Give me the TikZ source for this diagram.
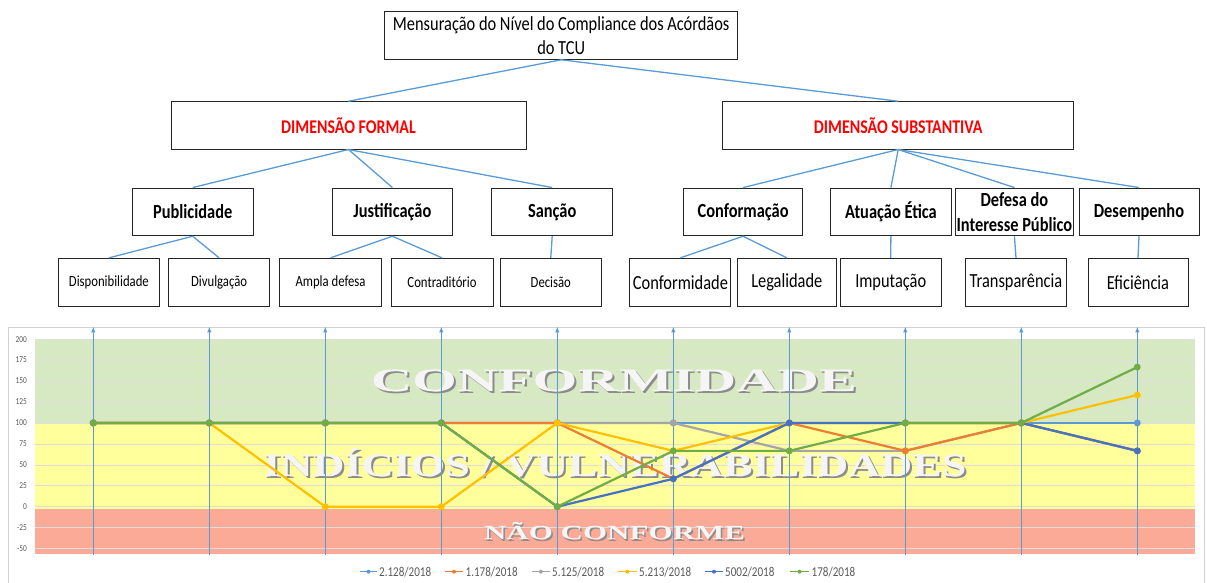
\documentclass[tikz,border=0pt]{standalone}
\usepackage{fontspec}
\setmainfont{Carlito}[FakeStretch=0.82]
\newfontfamily\embfont{Liberation Serif}
\usetikzlibrary{arrows.meta,calc}
\definecolor{connblue}{RGB}{91,155,213}
\definecolor{serA}{RGB}{91,155,213}
\definecolor{serB}{RGB}{237,125,49}
\definecolor{serC}{RGB}{165,165,165}
\definecolor{serD}{RGB}{255,192,0}
\definecolor{serE}{RGB}{68,114,196}
\definecolor{serF}{RGB}{112,173,71}
\definecolor{bandG}{RGB}{214,233,194}
\definecolor{bandY}{RGB}{255,255,155}
\definecolor{bandR}{RGB}{250,170,150}
\definecolor{dimred}{RGB}{255,0,0}
\definecolor{axisgray}{RGB}{89,89,89}
\newcommand\embtext[3]{\resizebox{#1}{\height}{\embfont\bfseries\fontsize{#2}{#2}\selectfont #3}}
\begin{document}
\begin{tikzpicture}[x=1pt,y=1pt,
  box/.style={draw=black!85, line width=1pt, align=center, inner sep=0pt, text=black},
  lvtop/.style={box, font=\fontsize{20}{24}\selectfont},
  lvdim/.style={box, font=\fontsize{19.4}{22}\selectfont\bfseries, text=dimred, minimum height=47.3pt},
  lvtwo/.style={box, font=\fontsize{20}{24.5}\selectfont\bfseries, minimum height=47.7pt},
  lvthreeL/.style={box, font=\fontsize{15.5}{18}\selectfont, minimum height=47.7pt},
  lvthreeR/.style={box, font=\fontsize{20}{24}\selectfont, minimum height=47.7pt},
  conn/.style={draw=connblue, line width=1.3pt},
  gridln/.style={draw=black!13, line width=0.6pt},
  ylab/.style={font=\fontsize{9}{9}\selectfont, text=axisgray, inner sep=0pt, anchor=east},
  upar/.style={draw=connblue, line width=1.2pt, -{Latex[length=6pt,width=4.5pt]}},
  serline/.style={line width=2.2pt, line join=round},
  emb/.style={inner sep=0pt, anchor=base, text=black!4},
  embsh/.style={inner sep=0pt, anchor=base, text=black!45},
  lgtext/.style={font=\fontsize{13.5}{13.5}\selectfont, text=axisgray, inner sep=0pt, anchor=west}
]
\useasboundingbox (0,0) rectangle (1207,583);

% ---------------- tree ----------------
\node[lvtop, minimum width=353.2pt, minimum height=47.6pt] (top) at (561.2,547.5)
  {Mensuração do Nível do Compliance dos Acórdãos\\do TCU};
\node[lvdim, minimum width=355pt] (df) at (348.5,457.6) {DIMENSÃO FORMAL};
\node[lvdim, minimum width=351.3pt] (ds) at (898.2,457.6) {DIMENSÃO SUBSTANTIVA};

\node[lvtwo, minimum width=121.4pt] (pub) at (192.7,371.1) {Publicidade};
\node[lvtwo, minimum width=120.7pt] (jus) at (392.4,371.1) {Justificação};
\node[lvtwo, minimum width=120.8pt] (san) at (552.2,371.1) {Sanção};
\node[lvtwo, minimum width=119.4pt] (cnf) at (743.1,371.1) {Conformação};
\node[lvtwo, minimum width=120.2pt] (atu) at (890.9,371.1) {Atuação Ética};
\node[lvtwo, minimum width=118.8pt] (def) at (1014.4,371.1) {Defesa do\\Interesse Público};
\node[lvtwo, minimum width=120pt] (des) at (1139,371.1) {Desempenho};

\node[lvthreeL, minimum width=100.7pt] (dsp) at (108.9,300.8) {Disponibilidade};
\node[lvthreeL, minimum width=101.4pt] (dvl) at (219.1,300.8) {Divulgação};
\node[lvthreeL, minimum width=101.4pt] (amp) at (330.5,300.8) {Ampla defesa};
\node[lvthreeL, minimum width=102pt] (ctr) at (442,300.8) {Contraditório};
\node[lvthreeL, minimum width=100.4pt] (dec) at (550.8,300.8) {Decisão};
\node[lvthreeR, minimum width=101pt] (cfd) at (680.4,300.8) {Conformidade};
\node[lvthreeR, minimum width=99.5pt] (leg) at (786.8,300.8) {Legalidade};
\node[lvthreeR, minimum width=100.7pt] (imp) at (890.7,300.8) {Imputação};
\node[lvthreeR, minimum width=100.1pt] (tra) at (1016,300.8) {Transparência};
\node[lvthreeR, minimum width=100pt] (efi) at (1138,300.8) {Eficiência};

\draw[conn] (top.south) -- (df.north);
\draw[conn] (top.south) -- (ds.north);
\draw[conn] (df.south) -- (pub.north);
\draw[conn] (df.south) -- (jus.north);
\draw[conn] (df.south) -- (san.north);
\draw[conn] (ds.south) -- (cnf.north);
\draw[conn] (ds.south) -- (atu.north);
\draw[conn] (ds.south) -- (def.north);
\draw[conn] (ds.south) -- (des.north);
\draw[conn] (pub.south) -- (dsp.north);
\draw[conn] (pub.south) -- (dvl.north);
\draw[conn] (jus.south) -- (amp.north);
\draw[conn] (jus.south) -- (ctr.north);
\draw[conn] (san.south) -- (dec.north);
\draw[conn] (cnf.south) -- (cfd.north);
\draw[conn] (cnf.south) -- (leg.north);
\draw[conn] (atu.south) -- (imp.north);
\draw[conn] (def.south) -- (tra.north);
\draw[conn] (des.south) -- (efi.north);

% ---------------- chart frame ----------------
\draw[black!18, line width=0.8pt] (8,-1) -- (8,256) -- (1204,256) -- (1204,-1);

\begin{scope}[y=0.8376pt, yshift=76.3pt]
  \fill[bandG] (35,100) rectangle (1195,200);
  \fill[bandY] (35,-3.1) rectangle (1195,100);
  \fill[bandR] (35,-56.4) rectangle (1195,-3.1);
  \foreach \v in {-50,-25,...,200} {
    \draw[gridln] (35,\v) -- (1195,\v);
    \node[ylab] (yl\v) at (27,\v) {\v};
  }
\end{scope}

% embossed band labels
\node[embsh] (confS) at (616,189) {\embtext{486pt}{32.8}{CONFORMIDADE}};
\node[emb]   (conf)  at (614,191) {\embtext{486pt}{32.8}{CONFORMIDADE}};
\node[embsh] (indS)  at (617,104.3) {\embtext{703pt}{32.8}{INDÍCIOS / VULNERABILIDADES}};
\node[emb]   (ind)   at (615,106.3) {\embtext{703pt}{32.8}{INDÍCIOS / VULNERABILIDADES}};
\node[embsh] (naoS)  at (616,41.5) {\embtext{261pt}{20.1}{NÃO CONFORME}};
\node[emb]   (nao)   at (614.5,43) {\embtext{261pt}{20.1}{NÃO CONFORME}};

\begin{scope}[y=0.8376pt, yshift=76.3pt]
  \foreach \i in {0,...,9} {
    \coordinate (ab\i) at ({93.3+116*\i},-57.3);
    \coordinate (at\i) at ({93.3+116*\i},215.2);
    \draw[upar] (ab\i) -- (at\i);
  }
  % series (drawn bottom to top)
  \draw[serline, serA] plot[mark=*, mark size=2.3pt] coordinates {(93.3,100) (209.3,100) (325.3,100) (441.3,100) (557.3,100) (673.3,100) (789.3,100) (905.3,100) (1021.3,100) (1137.3,100)};
  \draw[serline, serC] plot[mark=*, mark size=2.3pt] coordinates {(93.3,100) (209.3,100) (325.3,100) (441.3,100) (557.3,100) (673.3,100) (789.3,66.67) (905.3,66.67) (1021.3,100) (1137.3,66.67)};
  \draw[serline, serB] plot[mark=*, mark size=2.3pt] coordinates {(93.3,100) (209.3,100) (325.3,100) (441.3,100) (557.3,100) (673.3,33.33) (789.3,100) (905.3,66.67) (1021.3,100) (1137.3,66.67)};
  \draw[serline, serD] plot[mark=*, mark size=2.3pt] coordinates {(93.3,100) (209.3,100) (325.3,0) (441.3,0) (557.3,100) (673.3,66.67) (789.3,100) (905.3,100) (1021.3,100) (1137.3,133.33)};
  \draw[serline, serE] plot[mark=*, mark size=2.3pt] coordinates {(93.3,100) (209.3,100) (325.3,100) (441.3,100) (557.3,0) (673.3,33.33) (789.3,100) (905.3,100) (1021.3,100) (1137.3,66.67)};
  \draw[serline, serF] plot[mark=*, mark size=2.3pt] coordinates {(93.3,100) (209.3,100) (325.3,100) (441.3,100) (557.3,0) (673.3,66.67) (789.3,66.67) (905.3,100) (1021.3,100) (1137.3,166.67)};
\end{scope}

% ---------------- legend ----------------
\coordinate (lgA0) at (360,11.3);   \coordinate (lgA1) at (377,11.3);
\coordinate (lgB0) at (445,11.3);   \coordinate (lgB1) at (463,11.3);
\coordinate (lgC0) at (531.7,11.3); \coordinate (lgC1) at (550,11.3);
\coordinate (lgD0) at (618,11.3);   \coordinate (lgD1) at (636.7,11.3);
\coordinate (lgE0) at (705,11.3);   \coordinate (lgE1) at (723,11.3);
\coordinate (lgF0) at (790,11.3);   \coordinate (lgF1) at (809,11.3);
\draw[serA, line width=1.6pt] (lgA0) -- (lgA1); \fill[serA] ($(lgA0)!0.5!(lgA1)$) circle (2pt);
\draw[serB, line width=1.6pt] (lgB0) -- (lgB1); \fill[serB] ($(lgB0)!0.5!(lgB1)$) circle (2pt);
\draw[serC, line width=1.6pt] (lgC0) -- (lgC1); \fill[serC] ($(lgC0)!0.5!(lgC1)$) circle (2pt);
\draw[serD, line width=1.6pt] (lgD0) -- (lgD1); \fill[serD] ($(lgD0)!0.5!(lgD1)$) circle (2pt);
\draw[serE, line width=1.6pt] (lgE0) -- (lgE1); \fill[serE] ($(lgE0)!0.5!(lgE1)$) circle (2pt);
\draw[serF, line width=1.6pt] (lgF0) -- (lgF1); \fill[serF] ($(lgF0)!0.5!(lgF1)$) circle (2pt);
\node[lgtext] (lgtA) at (379,11.3) {2.128/2018};
\node[lgtext] (lgtB) at (465.5,11.3) {1.178/2018};
\node[lgtext] (lgtC) at (552,11.3) {5.125/2018};
\node[lgtext] (lgtD) at (639,11.3) {5.213/2018};
\node[lgtext] (lgtE) at (725,11.3) {5002/2018};
\node[lgtext] (lgtF) at (811.5,11.3) {178/2018};
\end{tikzpicture}
\end{document}
